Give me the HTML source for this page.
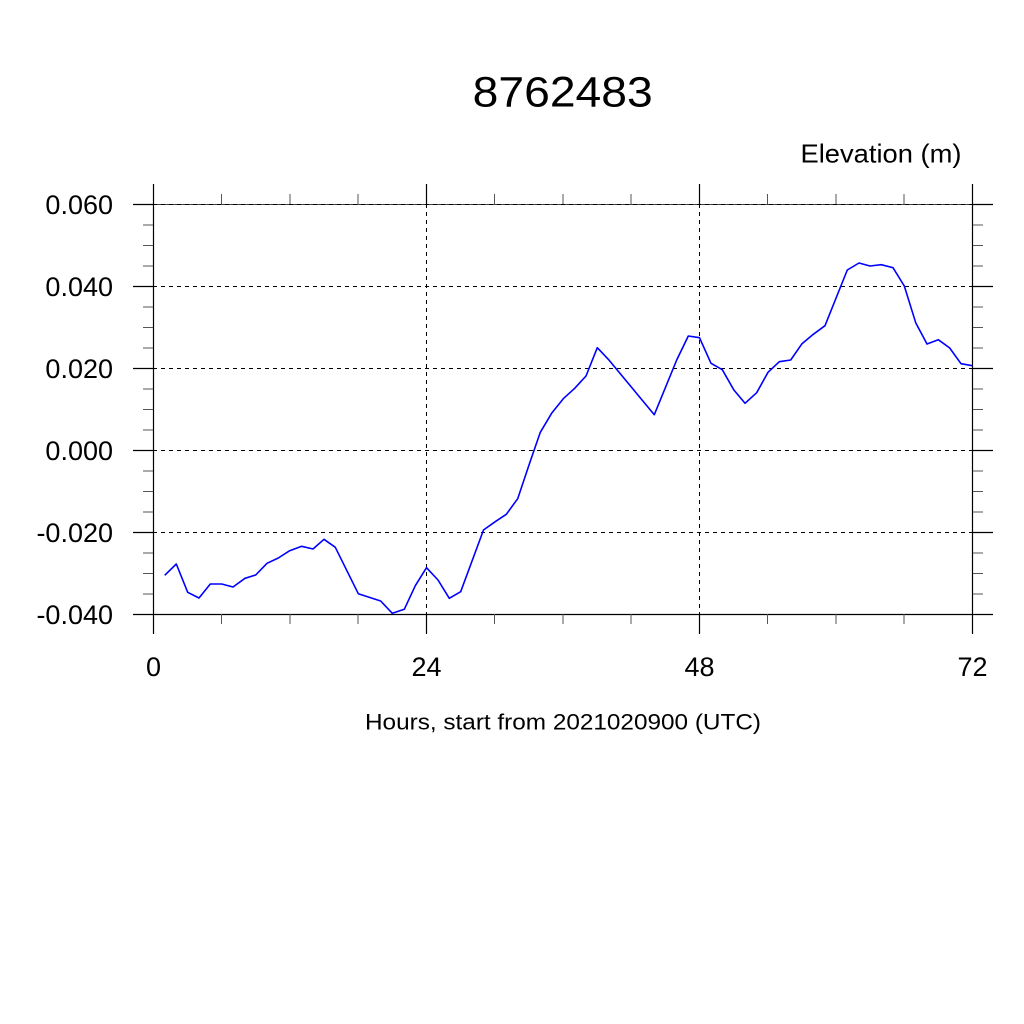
<!DOCTYPE html>
<html><head><meta charset="utf-8"><style>html,body{margin:0;padding:0;background:#fff}svg{display:block}</style></head>
<body>
<svg xmlns="http://www.w3.org/2000/svg" width="1024" height="1024" viewBox="0 0 1024 1024" font-family="'Liberation Sans', Arial, sans-serif">
<rect width="1024" height="1024" fill="#fff"/>
<!-- gridlines -->
<g stroke="#000" stroke-width="1" stroke-dasharray="4 4" fill="none">
<line x1="153" y1="204.5" x2="973" y2="204.5"/>
<line x1="153" y1="286.5" x2="973" y2="286.5"/>
<line x1="153" y1="368.5" x2="973" y2="368.5"/>
<line x1="153" y1="450.5" x2="973" y2="450.5"/>
<line x1="153" y1="532.5" x2="973" y2="532.5"/>
<line x1="426.5" y1="204" x2="426.5" y2="614"/>
<line x1="699.5" y1="204" x2="699.5" y2="614"/>
</g>
<!-- border -->
<g stroke="#000" stroke-width="1.2" fill="none">
<line x1="153.5" y1="204" x2="153.5" y2="614"/>
<line x1="972.5" y1="204" x2="972.5" y2="614"/>
<line x1="153" y1="614.5" x2="973" y2="614.5"/>
<line x1="153" y1="204.5" x2="973" y2="204.5" stroke-width="0.8"/>
</g>
<!-- major ticks -->
<g stroke="#000" stroke-width="1.2">
<line x1="133" y1="204.5" x2="153" y2="204.5"/><line x1="973" y1="204.5" x2="993" y2="204.5"/>
<line x1="133" y1="286.5" x2="153" y2="286.5"/><line x1="973" y1="286.5" x2="993" y2="286.5"/>
<line x1="133" y1="368.5" x2="153" y2="368.5"/><line x1="973" y1="368.5" x2="993" y2="368.5"/>
<line x1="133" y1="450.5" x2="153" y2="450.5"/><line x1="973" y1="450.5" x2="993" y2="450.5"/>
<line x1="133" y1="532.5" x2="153" y2="532.5"/><line x1="973" y1="532.5" x2="993" y2="532.5"/>
<line x1="133" y1="614.5" x2="153" y2="614.5"/><line x1="973" y1="614.5" x2="993" y2="614.5"/>
<line x1="153.5" y1="184" x2="153.5" y2="204"/><line x1="153.5" y1="614" x2="153.5" y2="634"/>
<line x1="426.5" y1="184" x2="426.5" y2="204"/><line x1="426.5" y1="614" x2="426.5" y2="634"/>
<line x1="699.5" y1="184" x2="699.5" y2="204"/><line x1="699.5" y1="614" x2="699.5" y2="634"/>
<line x1="972.5" y1="184" x2="972.5" y2="204"/><line x1="972.5" y1="614" x2="972.5" y2="634"/>
</g>
<!-- minor ticks -->
<g stroke="#555" stroke-width="1">
<line x1="143" y1="225" x2="153" y2="225"/><line x1="973" y1="225" x2="983" y2="225"/>
<line x1="143" y1="245.5" x2="153" y2="245.5"/><line x1="973" y1="245.5" x2="983" y2="245.5"/>
<line x1="143" y1="266" x2="153" y2="266"/><line x1="973" y1="266" x2="983" y2="266"/>
<line x1="143" y1="307" x2="153" y2="307"/><line x1="973" y1="307" x2="983" y2="307"/>
<line x1="143" y1="327.5" x2="153" y2="327.5"/><line x1="973" y1="327.5" x2="983" y2="327.5"/>
<line x1="143" y1="348" x2="153" y2="348"/><line x1="973" y1="348" x2="983" y2="348"/>
<line x1="143" y1="389" x2="153" y2="389"/><line x1="973" y1="389" x2="983" y2="389"/>
<line x1="143" y1="409.5" x2="153" y2="409.5"/><line x1="973" y1="409.5" x2="983" y2="409.5"/>
<line x1="143" y1="430" x2="153" y2="430"/><line x1="973" y1="430" x2="983" y2="430"/>
<line x1="143" y1="471" x2="153" y2="471"/><line x1="973" y1="471" x2="983" y2="471"/>
<line x1="143" y1="491.5" x2="153" y2="491.5"/><line x1="973" y1="491.5" x2="983" y2="491.5"/>
<line x1="143" y1="512" x2="153" y2="512"/><line x1="973" y1="512" x2="983" y2="512"/>
<line x1="143" y1="553" x2="153" y2="553"/><line x1="973" y1="553" x2="983" y2="553"/>
<line x1="143" y1="573.5" x2="153" y2="573.5"/><line x1="973" y1="573.5" x2="983" y2="573.5"/>
<line x1="143" y1="594" x2="153" y2="594"/><line x1="973" y1="594" x2="983" y2="594"/>
<line x1="221.5" y1="194" x2="221.5" y2="204"/><line x1="221.5" y1="614" x2="221.5" y2="624"/>
<line x1="290" y1="194" x2="290" y2="204"/><line x1="290" y1="614" x2="290" y2="624"/>
<line x1="358" y1="194" x2="358" y2="204"/><line x1="358" y1="614" x2="358" y2="624"/>
<line x1="494.5" y1="194" x2="494.5" y2="204"/><line x1="494.5" y1="614" x2="494.5" y2="624"/>
<line x1="563" y1="194" x2="563" y2="204"/><line x1="563" y1="614" x2="563" y2="624"/>
<line x1="631" y1="194" x2="631" y2="204"/><line x1="631" y1="614" x2="631" y2="624"/>
<line x1="767.5" y1="194" x2="767.5" y2="204"/><line x1="767.5" y1="614" x2="767.5" y2="624"/>
<line x1="836" y1="194" x2="836" y2="204"/><line x1="836" y1="614" x2="836" y2="624"/>
<line x1="904" y1="194" x2="904" y2="204"/><line x1="904" y1="614" x2="904" y2="624"/>
</g>
<!-- data -->
<polyline fill="none" stroke="#0000ff" stroke-width="1.6" stroke-linejoin="round" points="164.7,575.3 176.3,564 187.7,592.3 199,598 210.3,584 221.7,584 233,587 245,578.3 255.7,575 267,563.3 278.3,558 289.7,550.7 301.7,546.3 313,549 324,539.3 335.3,547.3 358.3,593.7 380.7,601 392.3,613.3 404.3,609.3 415.3,585.7 426.5,567.7 438,580 449.3,598.3 460.7,591.7 483.5,530 495.2,521.7 506.3,514.3 517.7,498.7 529,465 540.3,432.3 552,412.7 563.3,398.7 574.7,388.3 586,376 597.3,347.7 608.3,359.3 654.3,414.7 676.7,360 688.3,336 699.5,337.7 711,363.3 722.3,369.7 733.7,389.7 745,403.3 756.7,392.7 768,372.3 779.3,361.7 790.7,360 802,343.7 813.3,334.3 825,325.7 847.3,270 859,263 870,266 881.3,264.7 893,267.7 904.3,286 915.7,322.7 927,344 938.3,339.7 949.7,348 961,363.7 972.3,365.7"/>
<!-- y labels -->
<g font-size="27" text-anchor="end" fill="#000">
<text x="113" y="214">0.060</text>
<text x="113" y="296">0.040</text>
<text x="113" y="378">0.020</text>
<text x="113" y="460">0.000</text>
<text x="113" y="542">-0.020</text>
<text x="113" y="624">-0.040</text>
</g>
<!-- x labels -->
<g font-size="27" text-anchor="middle" fill="#000">
<text x="153.5" y="676">0</text>
<text x="426.5" y="676">24</text>
<text x="699.5" y="676">48</text>
<text x="972.5" y="676">72</text>
</g>
<text x="472.7" y="106.7" font-size="43" textLength="180" lengthAdjust="spacingAndGlyphs">8762483</text>
<text x="800.5" y="162.3" font-size="26" textLength="161" lengthAdjust="spacingAndGlyphs">Elevation (m)</text>
<text x="365" y="729.3" font-size="22" textLength="396" lengthAdjust="spacingAndGlyphs">Hours, start from 2021020900 (UTC)</text>
</svg>
</body></html>
